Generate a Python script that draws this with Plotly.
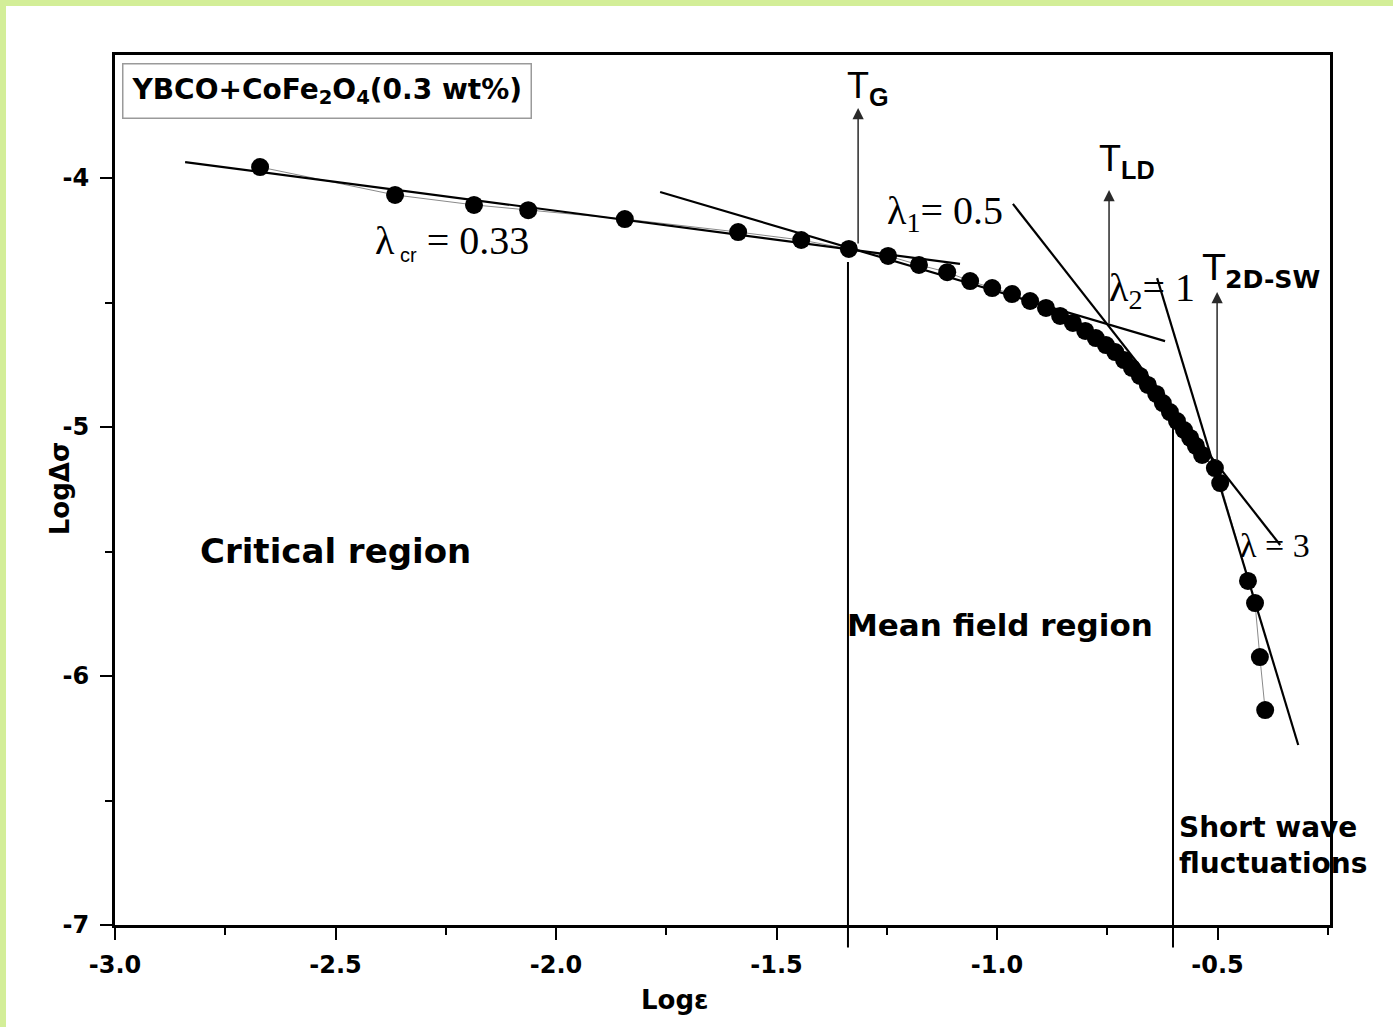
import plotly.graph_objects as go

# ---- data ----
log_eps = [-2.671, -2.365, -2.186, -2.063, -1.844, -1.587, -1.444, -1.336, -1.247, -1.177,
           -1.113, -1.061, -1.011, -0.966, -0.925, -0.889, -0.857, -0.828, -0.800, -0.776,
           -0.753, -0.732, -0.712, -0.694, -0.676, -0.658, -0.639, -0.624, -0.608, -0.592,
           -0.576, -0.562, -0.549, -0.535, -0.506, -0.494, -0.431, -0.415, -0.404, -0.392]
log_dsigma = [-3.956, -4.068, -4.108, -4.129, -4.165, -4.217, -4.249, -4.285, -4.313, -4.349,
              -4.378, -4.414, -4.442, -4.466, -4.494, -4.522, -4.554, -4.582, -4.614, -4.643,
              -4.671, -4.699, -4.731, -4.763, -4.795, -4.831, -4.867, -4.904, -4.940, -4.976,
              -5.012, -5.044, -5.076, -5.112, -5.165, -5.225, -5.618, -5.707, -5.924, -6.137]

fit_cr_x = [-2.841, -1.084]
fit_cr_y = [-3.936, -4.345]
fit_l1_x = [-1.764, -0.619]
fit_l1_y = [-4.056, -4.655]
fit_l2_x = [-0.964, -0.358]
fit_l2_y = [-4.104, -5.474]
fit_l3_x = [-0.637, -0.317]
fit_l3_y = [-4.402, -6.277]

x_ticks = [-3.0, -2.5, -2.0, -1.5, -1.0, -0.5]
y_ticks = [-7, -6, -5, -4]

temp_x = {"TG": -1.338, "TLD_line": -0.601}
arrow_x = {"TG": -1.315, "TLD": -0.746, "T2D": -0.501}

SANS = "DejaVu Sans, Liberation Sans, Arial, sans-serif"
ARIAL = "Liberation Sans, Arial, sans-serif"
SERIF = "Liberation Serif, Times New Roman, serif"

fig = go.Figure()

fig.add_trace(go.Scatter(x=log_eps, y=log_dsigma, mode="lines+markers",
                         line=dict(color="#8a8a8a", width=1),
                         marker=dict(color="black", size=18),
                         showlegend=False))
for fx, fy in [(fit_cr_x, fit_cr_y), (fit_l1_x, fit_l1_y), (fit_l2_x, fit_l2_y), (fit_l3_x, fit_l3_y)]:
    fig.add_trace(go.Scatter(x=fx, y=fy, mode="lines",
                             line=dict(color="black", width=2.2), showlegend=False))

# vertical region separators (extend slightly below the x axis)
fig.add_shape(type="line", xref="x", yref="paper", x0=temp_x["TG"], x1=temp_x["TG"],
              y0=-0.026, y1=0.762, line=dict(color="black", width=2))
fig.add_shape(type="line", xref="x", yref="paper", x0=temp_x["TLD_line"], x1=temp_x["TLD_line"],
              y0=-0.026, y1=0.578, line=dict(color="black", width=2))

# green page border strips
GREEN = "#d3ee98"
fig.add_shape(type="rect", xref="paper", yref="paper", x0=-0.0947, x1=1.052, y0=1.0563, y1=1.07,
              fillcolor=GREEN, line=dict(width=0))
fig.add_shape(type="rect", xref="paper", yref="paper", x0=-0.1, x1=-0.0897, y0=-0.12, y1=1.07,
              fillcolor=GREEN, line=dict(width=0))

# arrows
for key, y_tail, y_tip in [("TG", -4.269, -3.719), ("TLD", -4.590, -4.048), ("T2D", -5.141, -4.458)]:
    fig.add_annotation(x=arrow_x[key], y=y_tip, ax=arrow_x[key], ay=y_tail,
                       xref="x", yref="y", axref="x", ayref="y", text="",
                       showarrow=True, arrowhead=2, arrowsize=1.5, arrowwidth=1.5,
                       arrowcolor="#2a2a2a")

def txt(x, y, text, size, family=SANS, xanchor="left", align="left"):
    fig.add_annotation(x=x, y=y, xref="x", yref="y", text=text, showarrow=False,
                       xanchor=xanchor, yanchor="middle", align=align,
                       font=dict(size=size, family=family, color="black"))

txt(-1.345, -3.64, "T<sub><b>G</b></sub>", 36, ARIAL)
txt(-0.773, -3.93, "T<sub><b>LD</b></sub>", 36, ARIAL)
txt(-0.540, -4.37, "T<sub><b>2D-SW</b></sub>", 36, SANS)

txt(-2.415, -4.257, "λ<sub><span style='font-family:Liberation Sans;font-size:20px'> cr</span></sub> = 0.33", 40, SERIF)
txt(-1.254, -4.141, "λ<sub>1</sub>= 0.5", 40, SERIF)
txt(-0.751, -4.450, "λ<sub>2</sub>= 1", 40, SERIF)
txt(-0.453, -5.474, "λ = 3", 34, SERIF)

txt(-2.499, -5.498, "<b>Critical region</b>", 34, xanchor="center")
txt(-1.345, -5.795, "<b>Mean field region</b>", 31)
txt(-0.592, -6.679, "<b>Short wave<br>fluctuations</b>", 28)

fig.add_annotation(x=0.006, y=0.991, xref="paper", yref="paper", xanchor="left", yanchor="top",
                   text="<b>YBCO+CoFe<sub>2</sub>O<sub>4</sub>(0.3 wt%)</b>", showarrow=False,
                   font=dict(size=28, family=SANS, color="black"),
                   bordercolor="#9a9a9a", borderwidth=1.5, borderpad=8, bgcolor="white")

# axis titles
fig.add_annotation(x=0.461, y=-0.086, xref="paper", yref="paper", xanchor="center", yanchor="middle",
                   text="<b>Logε</b>", showarrow=False, font=dict(size=26, family=SANS, color="black"))
fig.add_annotation(x=-0.0453, y=0.502, xref="paper", yref="paper", xanchor="center", yanchor="middle",
                   text="<b>LogΔσ</b>", showarrow=False, textangle=-90,
                   font=dict(size=26, family=SANS, color="black"))

axis_common = dict(showline=True, linecolor="black", linewidth=3, mirror=True,
                   ticks="outside", ticklen=12, tickwidth=2, tickcolor="black",
                   showgrid=False, zeroline=False,
                   tickfont=dict(size=24, family=SANS, color="black"))

fig.update_xaxes(range=[-3.0, -0.245], tickvals=x_ticks,
                 ticktext=["<b>%.1f</b>" % v for v in x_ticks], ticklabelstandoff=4,
                 minor=dict(dtick=0.25, tick0=-3.0, ticks="outside", ticklen=7, tickwidth=2, tickcolor="black"),
                 **axis_common)
fig.update_yaxes(range=[-7.0, -3.506], tickvals=y_ticks,
                 ticktext=["<b>%d</b>" % v for v in y_ticks], ticklabelstandoff=6,
                 minor=dict(dtick=0.5, tick0=-7.0, ticks="outside", ticklen=7, tickwidth=2, tickcolor="black"),
                 **axis_common)

fig.update_layout(width=1393, height=1027, margin=dict(l=115, r=63, t=55, b=102),
                  paper_bgcolor="white", plot_bgcolor="white", showlegend=False)

fig.write_html("out.html")
